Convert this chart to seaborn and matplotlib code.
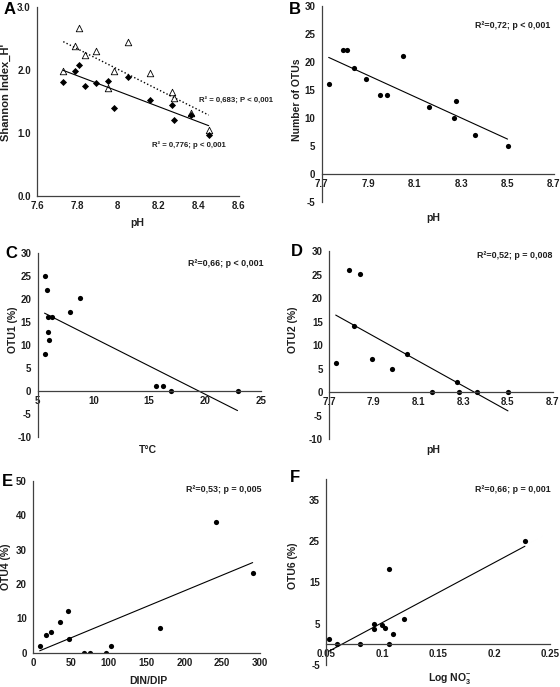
import numpy as np
import pandas as pd
import matplotlib
matplotlib.use("Agg")
import matplotlib.pyplot as plt
import seaborn as sns

# ---------------- data ----------------
# Panel A : Shannon index vs pH
a_ph = [7.73, 7.79, 7.81, 7.84, 7.89, 7.95, 7.98, 8.05, 8.16, 8.27, 8.28, 8.36, 8.45]
a_h_filled = [1.81, 1.98, 2.08, 1.74, 1.79, 1.83, 1.40, 1.89, 1.53, 1.45, 1.21, 1.28, 0.97]
a_h_open = [1.98, 2.38, 2.67, 2.24, 2.30, 1.72, 1.99, 2.45, 1.95, 1.65, 1.56, 1.32, 1.05]
a_xticks = [7.6, 7.8, 8.0, 8.2, 8.4, 8.6]
a_xticklabels = ["7.6", "7.8", "8", "8.2", "8.4", "8.6"]
a_yticks = [0.0, 1.0, 2.0, 3.0]

# Panel B : number of OTUs vs pH
b_ph = [7.73, 7.79, 7.81, 7.84, 7.89, 7.95, 7.98, 8.05, 8.16, 8.27, 8.28, 8.36, 8.50]
b_otus = [16, 22.1, 22.1, 19, 17, 14, 14, 21.1, 12, 10, 13, 7, 5]

# Panel C : OTU1 vs temperature
c_temp = [5.63, 5.66, 5.88, 5.90, 5.90, 6.04, 6.34, 7.95, 8.80, 15.64, 16.24, 16.95, 22.90]
c_otu1 = [25.0, 8.1, 22.1, 13.0, 16.1, 11.2, 16.1, 17.2, 20.2, 1.2, 1.2, 0.0, 0.0]

# Panel D : OTU2 vs pH
d_ph = [7.73, 7.79, 7.81, 7.84, 7.89, 7.98, 8.05, 8.16, 8.27, 8.28, 8.36, 8.50]
d_otu2 = [6.2, 26.0, 14.0, 25.1, 7.1, 5.0, 8.1, 0.0, 2.1, 0.0, 0.0, 0.0]

# Panel E : OTU4 vs DIN/DIP
e_dindip = [8.8, 17.6, 24.3, 35.3, 46.8, 47.6, 67.9, 75.4, 97.0, 103.7, 167.6, 241.3, 290.3]
e_otu4 = [1.9, 5.1, 5.9, 8.9, 12.1, 4.1, 0.0, 0.0, 0.0, 1.9, 7.1, 38.0, 23.2]

# Panel F : OTU6 vs log NO3-
f_logno3 = [0.0524, 0.060, 0.080, 0.093, 0.093, 0.100, 0.103, 0.1064, 0.1064, 0.110, 0.1196, 0.2276]
f_otu6 = [1.2, 0.0, 0.0, 4.8, 3.7, 4.6, 3.9, 18.3, 0.0, 2.5, 6.1, 25.0]

# annotation texts
a_txt_open = "R² = 0,683; P < 0,001"
a_txt_filled = "R² = 0,776; p < 0,001"
b_txt = "R²=0,72; p < 0,001"
c_txt = "R²=0,66; p < 0,001"
d_txt = "R²=0,52; p = 0,008"
e_txt = "R²=0,53; p = 0,005"
f_txt = "R²=0,66; p = 0,001"

# ---------------- style ----------------
sns.set_theme(style="white")
plt.rcParams["font.family"] = ["Liberation Sans", "DejaVu Sans"]
plt.rcParams["font.weight"] = "bold"
plt.rcParams["axes.labelweight"] = "bold"
plt.rcParams["axes.unicode_minus"] = False
plt.rcParams["mathtext.fontset"] = "custom"
plt.rcParams["mathtext.rm"] = "Liberation Sans:bold"
plt.rcParams["mathtext.it"] = "Liberation Sans:bold"
plt.rcParams["mathtext.bf"] = "Liberation Sans:bold"
plt.rcParams["mathtext.default"] = "bf"

TXT = "#1e1e1e"
AXC = "#404040"
W, H = 560, 687
fig = plt.figure(figsize=(W / 100, H / 100), dpi=100)
fig.patch.set_facecolor("white")

TICK_FS = 7
LAB_FS = 7.5


def rect(l, r, t, b):
    return [l / W, 1 - b / H, (r - l) / W, (b - t) / H]


def fx(px):
    return px / W


def fy(py):
    return 1 - py / H


def style_axes(ax, zero_bottom=True):
    for s in ["top", "right"]:
        ax.spines[s].set_visible(False)
    for s in ["left", "bottom"]:
        ax.spines[s].set_color(AXC)
        ax.spines[s].set_linewidth(0.9)
    if zero_bottom:
        ax.spines["bottom"].set_position(("data", 0))
    ax.tick_params(axis="x", direction="inout", length=4, width=0.9, color=AXC,
                   labelsize=TICK_FS, labelcolor=TXT, pad=1.5)
    ax.tick_params(axis="y", direction="out", length=3, width=0.9, color=AXC,
                   labelsize=TICK_FS, labelcolor=TXT, pad=1.5)
    for lab in ax.get_xticklabels() + ax.get_yticklabels():
        lab.set_fontweight("bold")
    ax.set_facecolor("white")
    ax.grid(False)


def labels(ax, xl, xpos, yl, ypos, ysize=LAB_FS, xsize=LAB_FS):
    ax.set_xlabel(xl, fontsize=xsize, fontweight="bold", color=TXT)
    ax.set_ylabel(yl, fontsize=ysize, fontweight="bold", color=TXT)
    ax.xaxis.set_label_coords(fx(xpos[0]), fy(xpos[1]), transform=fig.transFigure)
    ax.yaxis.set_label_coords(fx(ypos[0]), fy(ypos[1]), transform=fig.transFigure)
    ax.xaxis.label.set_verticalalignment("center")
    ax.yaxis.label.set_verticalalignment("center")
    ax.yaxis.label.set_horizontalalignment("center")


def letter(ch, x, y):
    fig.text(fx(x), fy(y), ch, fontsize=12, fontweight="bold", color="black",
             ha="center", va="center")


def note(txt, x, y, fs=6.4):
    fig.text(fx(x), fy(y), txt, fontsize=fs, fontweight="bold", color=TXT,
             ha="left", va="center")


dot_kws = dict(s=14, alpha=1, linewidths=0)
line_kws = dict(color="black", linewidth=0.8)

# ---------------- Panel A ----------------
axA = fig.add_axes(rect(37, 239, 7, 196))
dfA = pd.DataFrame({"pH": a_ph, "filled": a_h_filled, "open": a_h_open})
sns.regplot(data=dfA, x="pH", y="open", ax=axA, ci=None, color="black", marker="^",
            scatter_kws=dict(s=22, facecolors="white", edgecolors="black", linewidths=0.6, alpha=1),
            line_kws=dict(color="black", linewidth=1.0, linestyle=(0, (1, 1.6))))
sns.regplot(data=dfA, x="pH", y="filled", ax=axA, ci=None, color="black", marker="D",
            scatter_kws=dict(s=13, alpha=1, linewidths=0),
            line_kws=line_kws)
axA.set_xlim(7.6, 8.6)
axA.set_ylim(0, 3.0)
axA.set_xticks(a_xticks)
axA.set_xticklabels(a_xticklabels)
axA.set_yticks(a_yticks)
axA.set_yticklabels([f"{v:.1f}" for v in a_yticks])
style_axes(axA, zero_bottom=False)
labels(axA, "pH", (137, 223), "Shannon Index_H'", (6, 92), ysize=8)
letter("A", 10, 9)
note(a_txt_open, 199, 100, fs=5.6)
note(a_txt_filled, 152, 145, fs=5.6)

# ---------------- Panel B ----------------
axB = fig.add_axes(rect(321.7, 554, 6, 201.7))
dfB = pd.DataFrame({"pH": b_ph, "otus": b_otus})
sns.regplot(data=dfB, x="pH", y="otus", ax=axB, ci=None, color="black",
            scatter_kws=dot_kws, line_kws=line_kws)
axB.set_xlim(7.7, 8.7)
axB.set_ylim(-5, 30)
axB.set_xticks([7.7, 7.9, 8.1, 8.3, 8.5, 8.7])
axB.set_xticklabels(["7.7", "7.9", "8.1", "8.3", "8.5", "8.7"])
axB.set_yticks(range(-5, 31, 5))
style_axes(axB)
labels(axB, "pH", (433, 218), "Number of OTUs", (297, 100))
letter("B", 295, 10)
note(b_txt, 475, 25)

# ---------------- Panel C ----------------
axC = fig.add_axes(rect(37.5, 261, 253.3, 437.3))
dfC = pd.DataFrame({"temp": c_temp, "otu1": c_otu1})
sns.regplot(data=dfC, x="temp", y="otu1", ax=axC, ci=None, color="black",
            scatter_kws=dot_kws, line_kws=line_kws)
axC.set_xlim(5, 25)
axC.set_ylim(-10, 30)
axC.set_xticks([5, 10, 15, 20, 25])
axC.set_yticks(range(-10, 31, 5))
style_axes(axC)
labels(axC, "T°C", (148, 450), "OTU1 (%)", (13, 330))
letter("C", 11, 253)
note(c_txt, 188, 263)

# ---------------- Panel D ----------------
axD = fig.add_axes(rect(329, 552.7, 251, 439.3))
dfD = pd.DataFrame({"pH": d_ph, "otu2": d_otu2})
sns.regplot(data=dfD, x="pH", y="otu2", ax=axD, ci=None, color="black",
            scatter_kws=dot_kws, line_kws=line_kws)
axD.set_xlim(7.7, 8.7)
axD.set_ylim(-10, 30)
axD.set_xticks([7.7, 7.9, 8.1, 8.3, 8.5, 8.7])
axD.set_xticklabels(["7.7", "7.9", "8.1", "8.3", "8.5", "8.7"])
axD.set_yticks(range(-10, 31, 5))
style_axes(axD)
labels(axD, "pH", (433, 450), "OTU2 (%)", (293, 330))
letter("D", 297, 252)
note(d_txt, 477, 255)

# ---------------- Panel E ----------------
axE = fig.add_axes(rect(33, 260, 480.7, 652.7))
dfE = pd.DataFrame({"dindip": e_dindip, "otu4": e_otu4})
sns.regplot(data=dfE, x="dindip", y="otu4", ax=axE, ci=None, color="black",
            scatter_kws=dot_kws, line_kws=line_kws)
axE.set_xlim(0, 300)
axE.set_ylim(0, 50)
axE.set_xticks(range(0, 301, 50))
axE.set_yticks(range(0, 51, 10))
style_axes(axE, zero_bottom=False)
labels(axE, "DIN/DIP", (148, 681), "OTU4 (%)", (6, 567))
letter("E", 7, 481)
note(e_txt, 186, 489)

# ---------------- Panel F ----------------
axF = fig.add_axes(rect(326, 550, 479, 665))
dfF = pd.DataFrame({"logno3": f_logno3, "otu6": f_otu6})
sns.regplot(data=dfF, x="logno3", y="otu6", ax=axF, ci=None, color="black",
            scatter_kws=dot_kws, line_kws=line_kws)
axF.set_xlim(0.05, 0.25)
axF.set_ylim(-5, 40)
axF.set_xticks([0.05, 0.1, 0.15, 0.2, 0.25])
axF.set_xticklabels(["0.05", "0.1", "0.15", "0.2", "0.25"])
axF.set_yticks([-5, 5, 15, 25, 35])
style_axes(axF)
labels(axF, "Log NO$_3^{-}$", (450, 678), "OTU6 (%)", (293, 566))
letter("F", 295, 477)
note(f_txt, 475, 489)

fig.savefig("out.png", dpi=100, facecolor="white")
